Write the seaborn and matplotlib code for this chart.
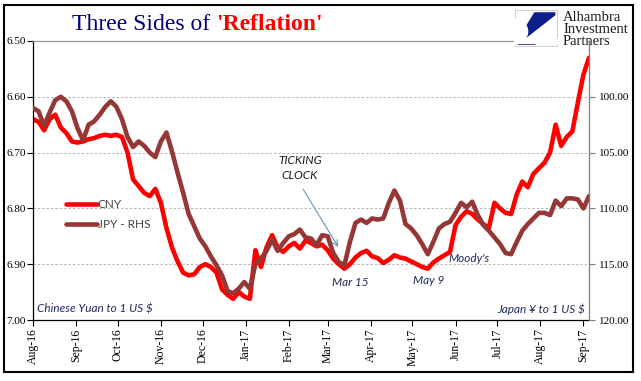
import matplotlib
matplotlib.use("Agg")
import matplotlib.pyplot as plt
import matplotlib.dates as mdates
from matplotlib.lines import Line2D
from matplotlib.patches import Rectangle, Polygon, Circle
from matplotlib.ticker import FormatStrFormatter, FixedLocator
import seaborn as sns
import pandas as pd

# ---------------- data ----------------
dates = pd.date_range("2016-08-01", periods=101, freq="4D")

cny = [6.640, 6.645, 6.660, 6.640, 6.632, 6.655, 6.665, 6.680, 6.682, 6.680,
       6.676, 6.674, 6.670, 6.668, 6.670, 6.668, 6.672, 6.700, 6.748, 6.760,
       6.772, 6.778, 6.765, 6.790, 6.835, 6.870, 6.895, 6.915, 6.920, 6.918,
       6.905, 6.900, 6.905, 6.915, 6.945, 6.955, 6.962, 6.950, 6.958, 6.962,
       6.875, 6.905, 6.870, 6.848, 6.870, 6.878, 6.868, 6.862, 6.872, 6.858,
       6.862, 6.868, 6.865, 6.875, 6.890, 6.900, 6.908, 6.900, 6.888, 6.880,
       6.876, 6.886, 6.889, 6.898, 6.892, 6.884, 6.888, 6.890, 6.895, 6.900,
       6.905, 6.908, 6.897, 6.890, 6.884, 6.878, 6.830, 6.815, 6.805, 6.810,
       6.820, 6.828, 6.835, 6.790, 6.800, 6.808, 6.810, 6.775, 6.752, 6.762,
       6.738, 6.728, 6.718, 6.700, 6.650, 6.688, 6.672, 6.662, 6.610, 6.560,
       6.530]

jpy = [101.0, 101.3, 102.6, 101.4, 100.3, 100.0, 100.4, 101.3, 102.8, 103.9,
       102.5, 102.2, 101.6, 100.9, 100.4, 100.9, 102.0, 103.6, 104.5, 104.0,
       104.4, 105.0, 105.4, 104.0, 103.2, 104.9, 106.8, 108.6, 110.5, 111.6,
       112.7, 113.4, 114.3, 115.1, 116.0, 117.4, 117.6, 117.2, 116.6, 117.2,
       115.0, 114.5, 113.8, 112.8, 113.8, 113.1, 112.5, 112.3, 111.9, 112.6,
       112.7, 113.3, 112.4, 112.5, 114.0, 114.8, 115.1, 113.0, 111.3, 111.0,
       111.3, 110.9, 111.0, 110.9, 109.5, 108.4, 109.3, 111.4, 111.8, 112.4,
       113.2, 114.1, 113.0, 111.8, 111.4, 111.2, 110.4, 109.5, 109.9, 109.4,
       110.6, 111.5, 112.0, 112.6, 113.2, 114.0, 114.1, 113.0, 112.0, 111.4,
       110.9, 110.4, 110.4, 110.6, 109.3, 109.8, 109.1, 109.1, 109.2, 110.0,
       108.9]

left_ticks = [6.50, 6.60, 6.70, 6.80, 6.90, 7.00]
right_ticks = [100, 105, 110, 115, 120]
series_names = ["CNY", "JPY - RHS"]

df = pd.DataFrame({"date": dates, "CNY": cny, "JPY": jpy})

# ---------------- style ----------------
sns.set_style("white")
plt.rcParams["font.family"] = ["Liberation Serif", "DejaVu Serif"]

RED = "#FF0000"
BROWN = "#953735"
NAVY_TXT = "#1c2a5c"

W, H = 641, 381
fig = plt.figure(figsize=(W / 100, H / 100), dpi=100)
fig.patch.set_facecolor("white")

ax = fig.add_axes([33 / W, 1 - 320 / H, (589 - 33) / W, (320 - 41) / H])
ax2 = ax.twinx()

sns.lineplot(data=df, x="date", y="CNY", ax=ax, color=RED, lw=3.3,
             solid_capstyle="round", solid_joinstyle="round")
sns.lineplot(data=df, x="date", y="JPY", ax=ax2, color=BROWN, lw=3.3,
             solid_capstyle="round", solid_joinstyle="round")

ax.set_xlim(pd.Timestamp("2016-08-01"), pd.Timestamp("2017-09-05"))
ax.set_ylim(7.0, 6.5)
ax2.set_ylim(120, 95)

ax.yaxis.set_major_locator(FixedLocator(left_ticks))
ax.yaxis.set_major_formatter(FormatStrFormatter("%.2f"))
ax2.yaxis.set_major_locator(FixedLocator(right_ticks))
ax2.yaxis.set_major_formatter(FormatStrFormatter("%.2f"))

ax.xaxis.set_major_locator(mdates.MonthLocator())
ax.xaxis.set_major_formatter(mdates.DateFormatter("%b-%y"))

ax.set_xlabel("")
ax.set_ylabel("")
ax2.set_ylabel("")

for lab in ax.get_xticklabels():
    lab.set_rotation(90)

ax.tick_params(axis="x", direction="out", length=4, width=0.8, colors="black",
               labelsize=8.5, pad=2, bottom=True)
ax.tick_params(axis="y", direction="out", length=4, width=0.8, colors="black",
               labelsize=8, pad=1, left=True)
ax2.tick_params(axis="y", direction="out", length=4, width=0.8, color="#7f7f7f",
                labelcolor="black", labelsize=8, pad=3, right=True)

# grid
ax.grid(False)
ax2.grid(False)
for v in left_ticks[1:-1]:
    ax.axhline(v, color="#b4b4b4", lw=0.7, ls=(0, (2.5, 2)), zorder=0)

# spines
ax.spines["top"].set_color("#9a9a9a")
ax.spines["top"].set_linewidth(0.9)
ax.spines["left"].set_color("black")
ax.spines["left"].set_linewidth(0.9)
ax.spines["bottom"].set_color("black")
ax.spines["bottom"].set_linewidth(0.9)
ax.spines["right"].set_visible(False)
for s in ["top", "left", "bottom"]:
    ax2.spines[s].set_visible(False)
ax2.spines["right"].set_color("#7f7f7f")
ax2.spines["right"].set_linewidth(0.9)

# legend
handles = [Line2D([], [], color=RED, lw=3.3), Line2D([], [], color=BROWN, lw=3.3)]
leg = ax2.legend(handles, series_names, loc="upper left",
                 bbox_to_anchor=(0.04, 0.47), frameon=False,
                 handlelength=2.6, handletextpad=0.1, labelspacing=0.75,
                 prop={"family": "Lato", "size": 8.5})
for t in leg.get_texts():
    t.set_color("#404040")

# in-plot texts
ital = dict(family="Lato", style="italic", size=8.5, color=NAVY_TXT)
ax2.text(0.007, 0.018, "Chinese Yuan to 1 US $", transform=ax.transAxes,
         ha="left", va="bottom", **ital)
ax2.text(0.993, 0.018, "Japan ¥ to 1 US $", transform=ax.transAxes,
         ha="right", va="bottom", **ital)
ax2.text(0.480, 0.545, "TICKING\nCLOCK", transform=ax.transAxes, ha="center",
         va="center", family="Lato", style="italic", size=8.5, color="#1a1a1a",
         linespacing=1.5)
ax2.annotate("", xy=(0.549, 0.262), xytext=(0.486, 0.468),
             xycoords="axes fraction", textcoords="axes fraction",
             arrowprops=dict(arrowstyle="->", color="#6f8fc0", lw=0.8,
                             shrinkA=0, shrinkB=0))
ax2.text(0.570, 0.133, "Mar 15", transform=ax.transAxes, ha="center",
         va="center", **ital)
ax2.text(0.712, 0.140, "May 9", transform=ax.transAxes, ha="center",
         va="center", **ital)
ax2.text(0.748, 0.222, "Moody's", transform=ax.transAxes, ha="left",
         va="center", **ital)

# title
fig.canvas.draw()
r = fig.canvas.get_renderer()
t1 = fig.text(72 / W, 1 - 24 / H, "Three Sides of ", ha="left", va="center",
              size=17, color="#000080", family="Liberation Serif")
bb = t1.get_window_extent(renderer=r)
fig.text(bb.x1 / W, 1 - 24 / H, "'Reflation'", ha="left", va="center",
         size=17, color="#FF0000", weight="bold", family="Liberation Serif")

# white patch hiding the top spine behind the logo block
fig.add_artist(Rectangle((514 / W, 1 - 44 / H), 74 / W, 6 / H,
                         transform=fig.transFigure, fc="white", ec="none",
                         zorder=2))

# logo
lax = fig.add_axes([515 / W, 1 - 47 / H, 43 / W, 37 / H])
lax.set_xlim(0, 1)
lax.set_ylim(0, 1)
lax.axis("off")
lax.add_patch(Rectangle((0.01, 0.01), 0.98, 0.98, fc="white", ec="#c8c8c8", lw=1.2))
lax.add_patch(Polygon([(0.45, 0.94), (0.94, 0.94), (0.94, 0.86), (0.06, 0.06),
                       (0.06, 0.2)], closed=True, fc="#0f1f8a", ec="none"))
lax.add_patch(Circle((-0.05, 0.42), 0.36, fc="white", ec="none"))
lax.add_patch(Polygon([(0.06, 0.06), (0.5, 0.06), (0.2, 0.2)], closed=True,
                      fc="#0f1f8a", ec="none"))
fig.text(563 / W, 1 - 11 / H, "Alhambra\nInvestment\nPartners", ha="left",
         va="top", size=10.5, color="#1a1a1a", family="Liberation Serif",
         linespacing=0.88, zorder=5)

# frame
fig.add_artist(Rectangle((4 / W, 1 - 372 / H), 629 / W, 367 / H,
                         transform=fig.transFigure, fill=False, ec="black", lw=1.5))

fig.savefig("out.png", dpi=100)
